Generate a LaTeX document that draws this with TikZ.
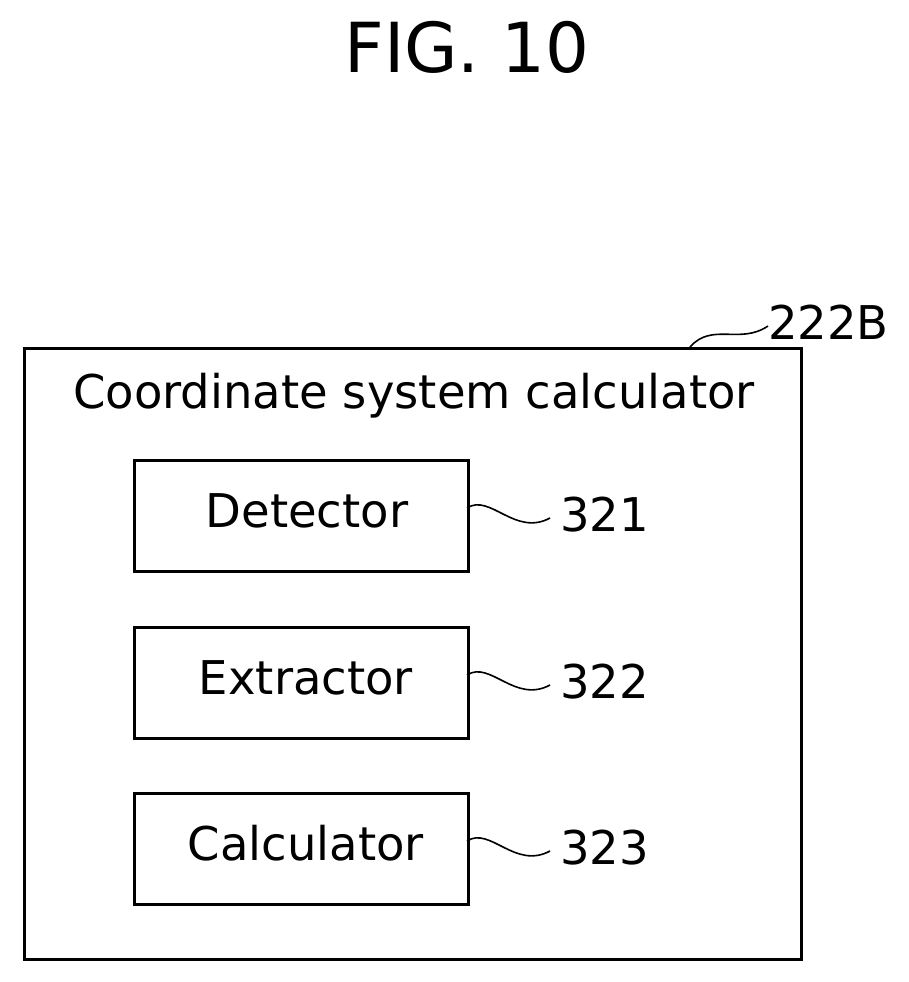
\documentclass[tikz,border=0pt]{standalone}
\usepackage{fontspec}
\setmainfont{DejaVu Sans}
\begin{document}
\begin{tikzpicture}[x=1pt,y=-1pt,
  box/.style={draw,line width=2.6pt,minimum width=334pt,minimum height=111pt,anchor=north west,inner sep=0pt},
  lbl/.style={font=\fontsize{46.5}{48}\selectfont},
  num/.style={font=\fontsize{46.5}{48}\selectfont,anchor=west,inner sep=0pt},
  sq/.style={line width=1.6pt}]
\useasboundingbox (0,0) rectangle (908,982);
\node[font=\fontsize{69}{72}\selectfont] (title) at (467,47) {FIG. 10};
\node[draw,line width=2.6pt,minimum width=777pt,minimum height=611pt,anchor=north west,inner sep=0pt] (outer) at (23,347) {};
\node[lbl] (head) at (414,396) {Coordinate system calculator};
\node[box] (b1) at (133,459) {};
\node[box] (b2) at (133,626) {};
\node[box] (b3) at (133,792) {};
\node[lbl] (t1) at (307,511) {Detector};
\node[lbl] (t2) at (306,678) {Extractor};
\node[lbl] (t3) at (306,843) {Calculator};
\foreach \i/\y/\n in {1/515/321,2/682/322,3/848/323}{
  \coordinate (s\i) at (467,\y-7);
  \coordinate (e\i) at (550,\y+3);
  \node[num] (n\i) at (560,\y) {\n};
  \draw[sq] (s\i) .. controls (490,\y-22) and (515,\y+22) .. (e\i);
}
\coordinate (o1) at (690,347);
\coordinate (o2) at (768,326);
\node[num] (n4) at (768,322) {222B};
\draw[sq] (o1) .. controls (712,322) and (740,345) .. (o2);
\end{tikzpicture}
\end{document}
